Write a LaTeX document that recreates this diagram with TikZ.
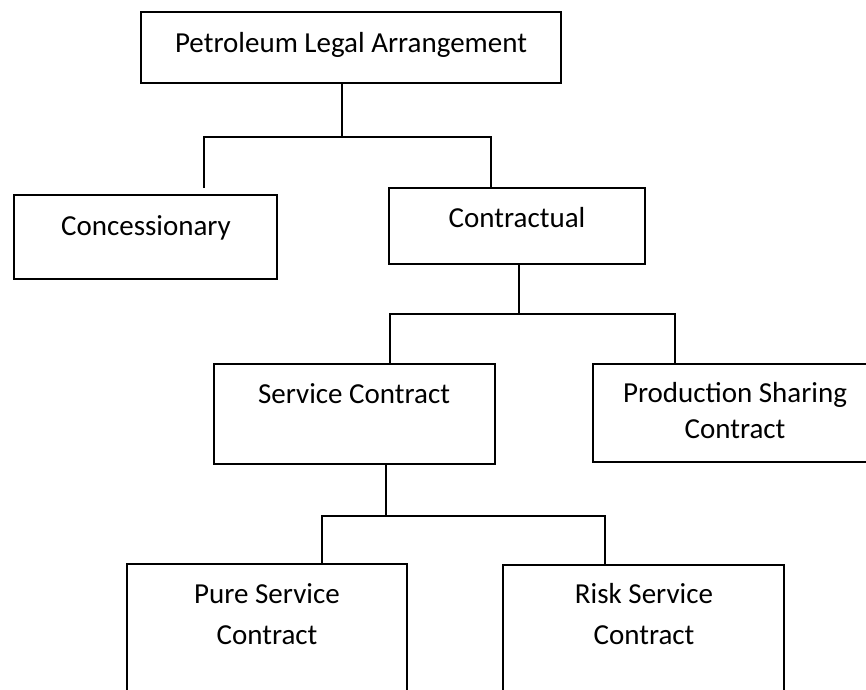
\documentclass[tikz,border=0pt]{standalone}
\usepackage{fontspec}
\setmainfont{Carlito}
\begin{document}
\begin{tikzpicture}[x=1pt,y=-1pt,
  box/.style={draw=black, line width=1.5pt, rectangle, inner sep=0pt},
  wire/.style={draw=black, line width=1.5pt},
  lbl/.style={anchor=base, inner sep=0pt, align=center,
              font=\fontsize{29}{38}\selectfont}]
\useasboundingbox (0,0) rectangle (866,689);
\clip (0,0) rectangle (866,689);

% boxes
\node[box, minimum width=420pt, minimum height=71pt]  (pla)  at (351,47.5)  {};
\node[box, minimum width=263pt, minimum height=84pt]  (con)  at (145.5,237) {};
\node[box, minimum width=256pt, minimum height=76pt]  (ctr)  at (517,226)   {};
\node[box, minimum width=281pt, minimum height=100pt] (svc)  at (354.5,414) {};
\node[box, minimum width=284pt, minimum height=98pt]  (psc)  at (735,413)   {};
\node[box, minimum width=280pt, minimum height=136pt] (pure) at (267,632)   {};
\node[box, minimum width=281pt, minimum height=135pt] (risk) at (643.5,632.5) {};

% box texts (multi-line texts are placed by the baseline of their last line)
\node[lbl] (pla-t)  at (351,52)  {Petroleum Legal Arrangement};
\node[lbl] (con-t)  at (146,235) {Concessionary};
\node[lbl] (ctr-t)  at (517,227) {Contractual};
\node[lbl] (svc-t)  at (354,403) {Service Contract};
\node[lbl, font=\fontsize{29}{36}\selectfont] (psc-t)  at (735,438) {Production Sharing\\Contract};
\node[lbl, font=\fontsize{29}{41}\selectfont] (pure-t) at (267,644) {Pure Service\\Contract};
\node[lbl, font=\fontsize{29}{41}\selectfont] (risk-t) at (644,644) {Risk Service\\Contract};

% first level
\coordinate (j1) at (342,137);
\coordinate (con-end) at (204,188);
\coordinate (k1) at (491,0);
\draw[wire] (pla.south -| j1) -- (j1);
\draw[wire] (con-end) |- (j1) -| (ctr.north -| k1);

% second level
\coordinate (j2) at (519,314);
\coordinate (d1) at (390,0);
\coordinate (d2) at (675,0);
\draw[wire] (ctr.south -| j2) -- (j2);
\draw[wire] (svc.north -| d1) |- (j2) -| (psc.north -| d2);

% third level
\coordinate (j3) at (386,516);
\coordinate (d3) at (322,0);
\coordinate (d4) at (605,0);
\draw[wire] (svc.south -| j3) -- (j3);
\draw[wire] (pure.north -| d3) |- (j3) -| (risk.north -| d4);
\end{tikzpicture}
\end{document}
